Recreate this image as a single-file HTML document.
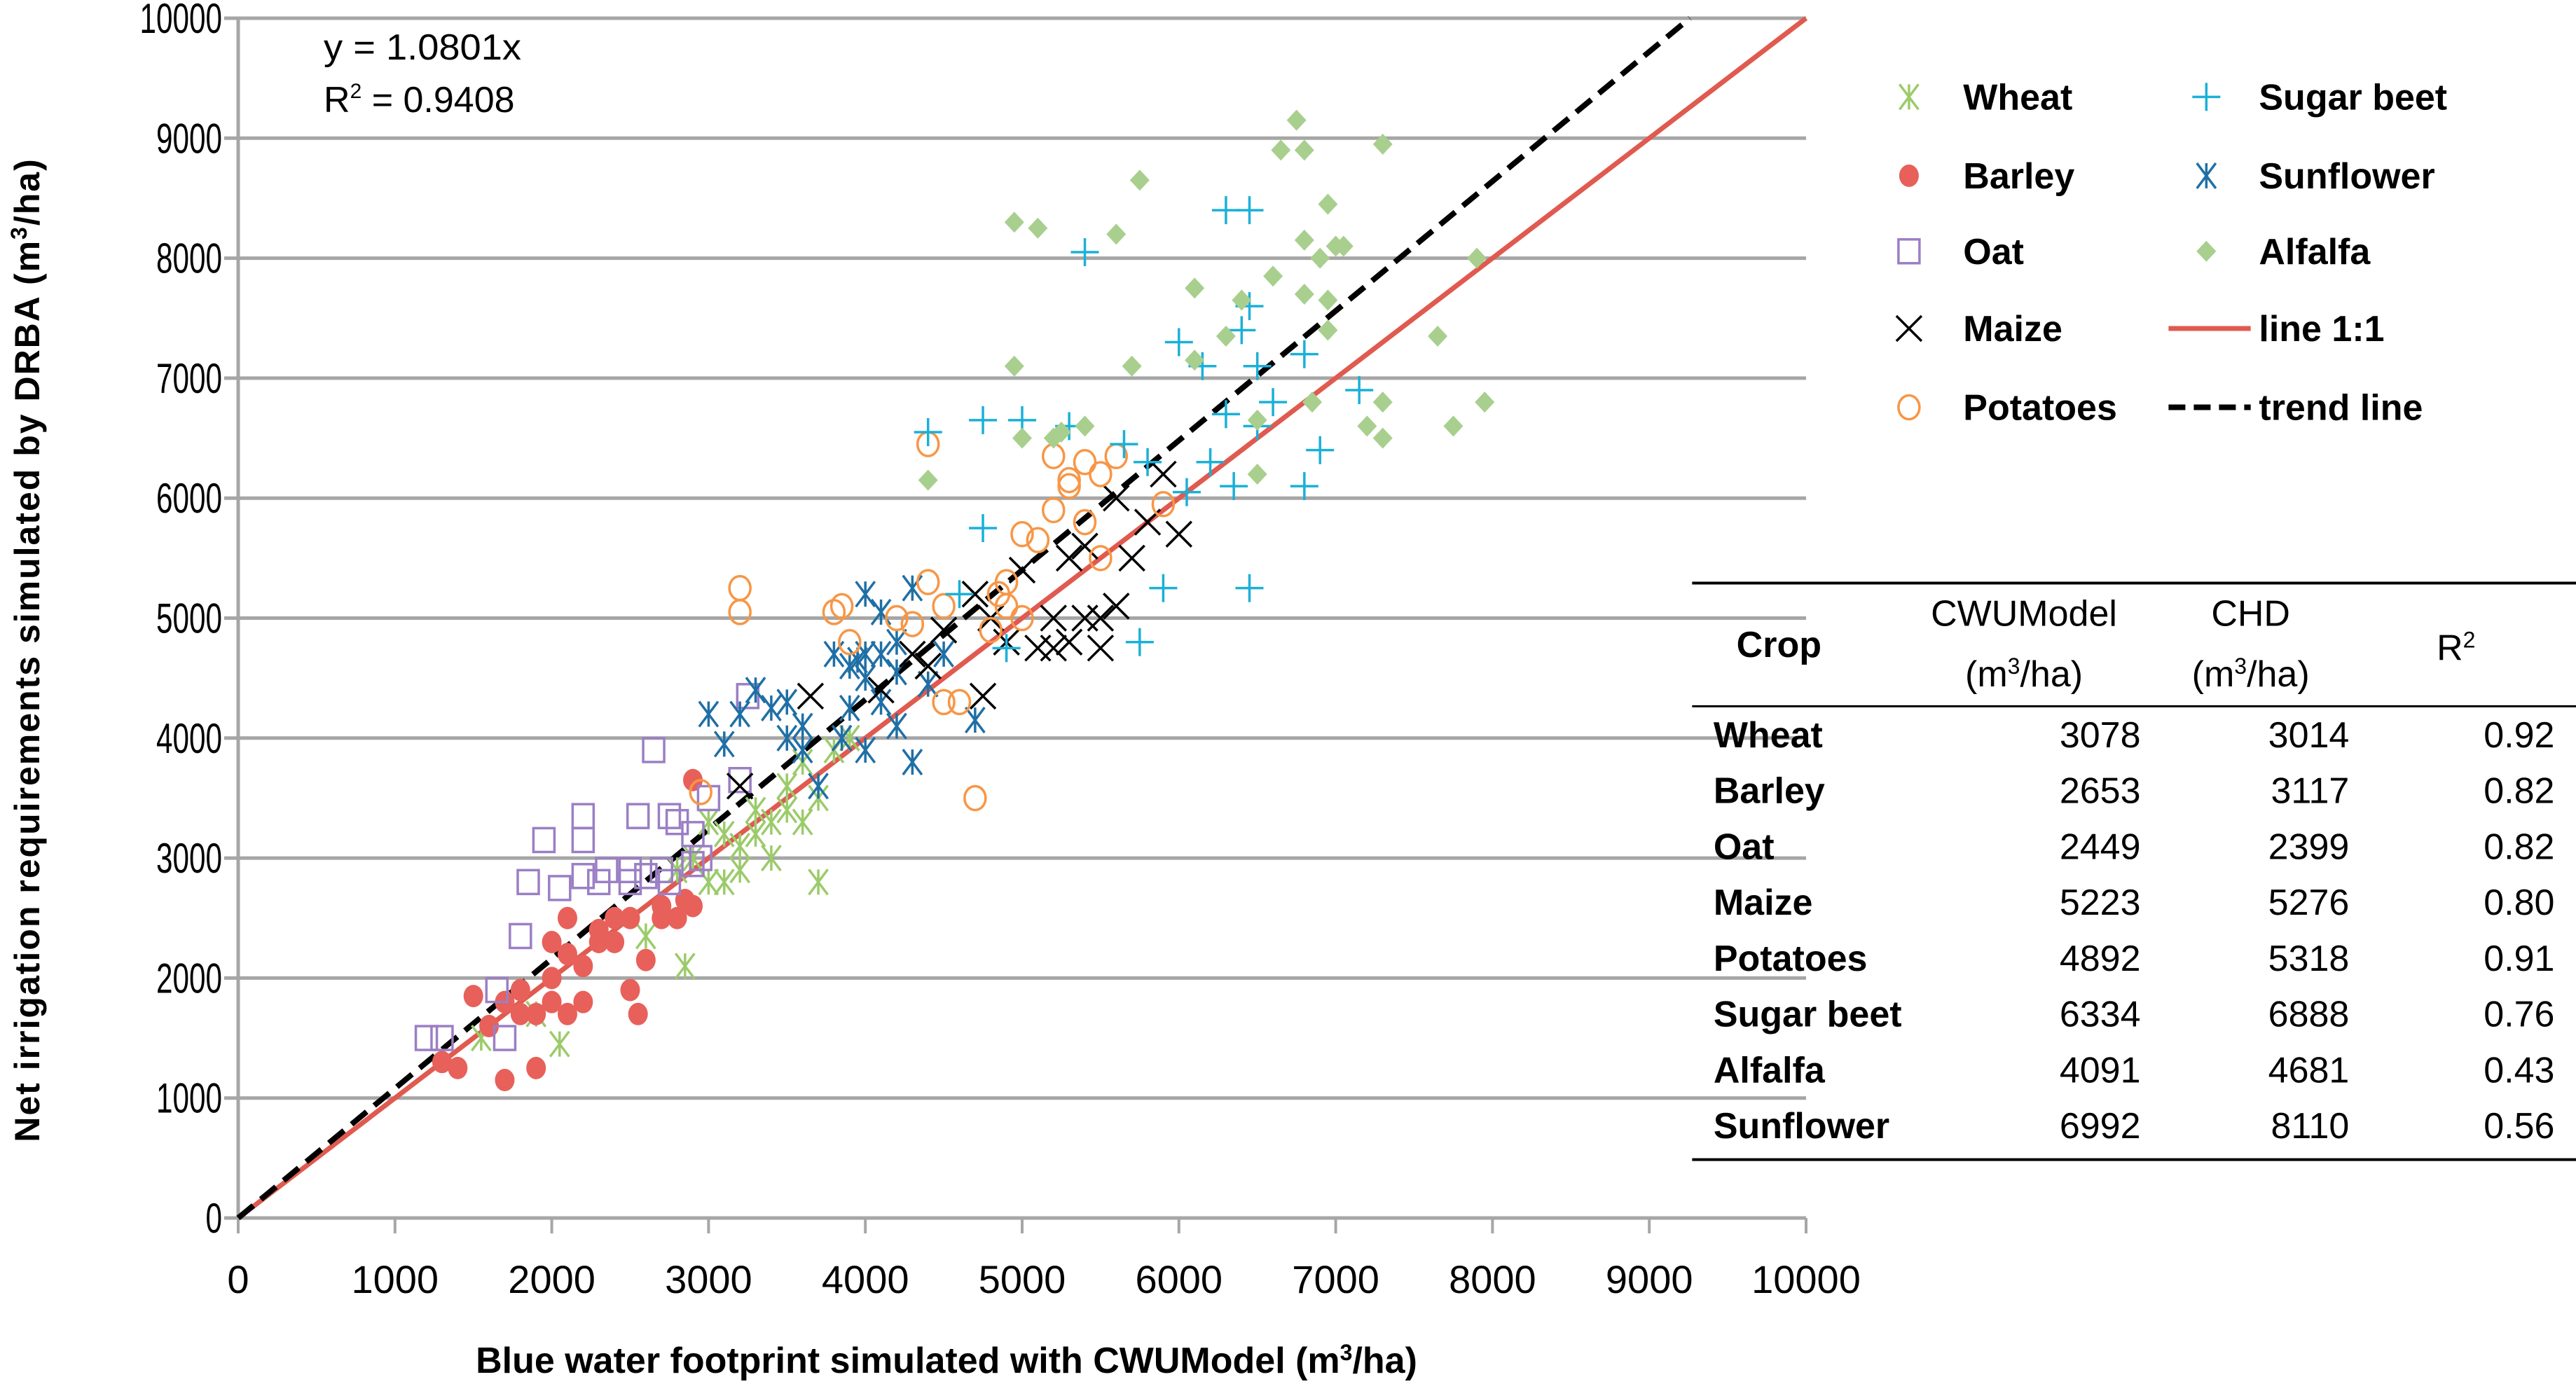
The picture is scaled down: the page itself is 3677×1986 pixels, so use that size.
<!DOCTYPE html>
<html><head><meta charset="utf-8"><style>
html,body{margin:0;padding:0;background:#fff}
svg{display:block;font-family:"Liberation Sans",Arial,sans-serif}
</style></head><body>
<svg id="chart" width="3677" height="1986" viewBox="0 0 3677 1986" xmlns="http://www.w3.org/2000/svg">
<g id="grid"></g>
<g id="axes"></g>
<g id="lines"></g>
<g id="marks"></g>
<text x="462" y="85" font-size="52" textLength="282" lengthAdjust="spacingAndGlyphs">y = 1.0801x</text>
<text x="462" y="160" font-size="52">R<tspan font-size="30" dy="-20">2</tspan><tspan dy="20"> = 0.9408</tspan></text>
<text transform="translate(56,928) rotate(-90)" text-anchor="middle" font-size="50" font-weight="bold" letter-spacing="2">Net irrigation requirements simulated by DRBA (m<tspan font-size="32" dy="-18">3</tspan><tspan dy="18">/ha)</tspan></text>
<text x="1351" y="1960" text-anchor="middle" font-size="52" font-weight="bold">Blue water footprint simulated with CWUModel (m<tspan font-size="32" dy="-18">3</tspan><tspan dy="18">/ha)</tspan></text>
<g id="legend"></g>
<g id="table"></g>
</svg>
<script>
const xTicks=[0,1000,2000,3000,4000,5000,6000,7000,8000,9000,10000];
const yTicks=[0,1000,2000,3000,4000,5000,6000,7000,8000,9000,10000];
const wheatX=[2050,1550,2600,2850,3700,3000,3100,3200,3300,3400,3500,3600,3700,3300,3500,3800,3900,3100,2900,3600,2800,3000,3400,3200,1900];
const wheatY=[1450,1500,2350,2100,2800,2800,2800,3100,3200,3000,3400,3300,3500,3400,3600,3900,4000,3200,3000,3800,2900,3300,3300,2900,1700];
const barleyX=[1700,1900,1400,1300,1500,1700,1800,1900,2000,2100,2200,2100,2200,2300,2400,2500,2550,2600,2100,2300,2400,2500,2700,2800,2900,2850,2900,2000,1800,2000,1600,2700];
const barleyY=[1150,1250,1250,1300,1850,1800,1700,1700,1800,1700,1800,2200,2100,2300,2300,1900,1700,2150,2500,2400,2500,2500,2500,2500,2600,2650,3650,2000,1900,2300,1600,2600];
const oatX=[1200,1300,1700,1650,1800,1850,1950,2200,2200,2050,2200,2350,2500,2550,2600,2700,2750,2800,2900,2950,2650,3200,3250,3000,2500,2300,2750,2900];
const oatY=[1500,1500,1500,1900,2350,2800,3150,3150,3350,2750,2850,2900,2900,3350,2850,2900,3350,3300,3200,3000,3900,3650,4350,3500,2800,2800,2800,2950];
const maizeX=[3650,4100,4300,4500,4700,4800,5000,5100,5200,5300,5400,5500,5500,5600,5700,5800,5900,6000,5600,5300,4750,4900,5200,5400,3200,4400];
const maizeY=[4350,4400,4700,4900,5200,5000,5400,4750,4750,4800,5000,5000,4750,5100,5500,5800,6200,5700,6000,5500,4350,4800,5000,5600,3600,4600];
const potatoX=[3200,3200,3800,3850,4400,4700,4500,4600,4200,4300,4400,4500,4800,4900,5000,5100,5200,5300,5400,5500,5200,5600,5300,5400,5500,5900,4900,5000,4850,3900,2950];
const potatoY=[5250,5050,5050,5100,6450,3500,4300,4300,5000,4950,5300,5100,4900,5300,5700,5650,5900,6100,6300,6200,6350,6350,6150,5800,5500,5950,5100,5000,5200,4800,3550];
const beetX=[4400,4750,5000,5300,5400,6300,6450,5650,6000,6150,6050,6400,6450,6500,6600,6800,7150,6900,6800,6450,5900,5750,4900,4750,4600,6200,6350,6500,6300,5800];
const beetY=[6550,6650,6650,6600,8050,8400,8400,6450,7300,7100,6050,7400,7600,7100,6800,7200,6900,6400,6100,5250,5250,4800,4750,5750,5200,6300,6100,6600,6700,6300];
const sunX=[3000,3100,3200,3400,3500,3600,3800,3850,3900,4000,4000,4100,4200,4300,4300,4000,4700,4500,3700,3900,4000,4100,3950,4200,4400,3500,3300,4100,4200,3600];
const sunY=[4200,3950,4200,4250,4000,3900,4700,4000,4250,4500,5200,5050,4800,5250,3800,3900,4150,4700,3600,4600,4700,4300,4650,4550,4450,4300,4400,4700,4100,4100];
const alfX=[4950,5100,4950,5000,5200,5250,5400,4400,5700,5600,5750,6100,6100,6300,6400,6500,6600,6800,6800,6900,6950,7000,7050,7200,7300,7300,6650,6800,6750,7300,7650,7750,7900,7950,6500,6850,6950,6950];
const alfY=[8300,8250,7100,6500,6500,6550,6600,6150,7100,8200,8650,7150,7750,7350,7650,6200,7850,7700,8150,8000,8450,8100,8100,6600,6500,6800,8900,8900,9150,8950,7350,6600,8000,6800,6650,6800,7400,7650];
const trendSlope=1.0801;
const tableCrops=["Wheat","Barley","Oat","Maize","Potatoes","Sugar beet","Alfalfa","Sunflower"];
const tableCWU=[3078,2653,2449,5223,4892,6334,4091,6992];
const tableCHD=[3014,3117,2399,5276,5318,6888,4681,8110];
const tableR2=["0.92","0.82","0.82","0.80","0.91","0.76","0.43","0.56"];

const NS="http://www.w3.org/2000/svg";
const X0=340,X1=2578,Y0=1739,Y1=26;
function sx(v){return X0+(X1-X0)*v/10000;}
function sy(v){return Y0-(Y0-Y1)*v/10000;}
function mk(tag,attrs,parent){const e=document.createElementNS(NS,tag);for(const k in attrs)e.setAttribute(k,attrs[k]);parent.appendChild(e);return e;}
const grid=document.getElementById('grid'),axes=document.getElementById('axes'),lines=document.getElementById('lines'),marks=document.getElementById('marks');

yTicks.forEach(t=>{
  const l=mk('line',{x1:X0-20,x2:X1,y1:sy(t),y2:sy(t),stroke:'#a6a6a6','stroke-width':5},grid);
  
  
  const s=String(t);
  const tx=mk('text',{x:317,y:sy(t)+21,'text-anchor':'end','font-size':60,textLength:s.length*23.5,lengthAdjust:'spacingAndGlyphs'},axes);
  tx.textContent=s;
  
  
});
const ya=mk('line',{x1:X0,x2:X0,y1:Y1,y2:Y0,stroke:'#a6a6a6','stroke-width':5},axes);


xTicks.forEach(t=>{
  const l=mk('line',{x1:sx(t),x2:sx(t),y1:Y0,y2:Y0+22,stroke:'#a6a6a6','stroke-width':4},axes);
  
  
  const tx=mk('text',{x:sx(t),y:1846,'text-anchor':'middle','font-size':56},axes);
  tx.textContent=t;
  
  
});

function marker(type,cx,cy,parent){
  const g=mk('g',{},parent);const r=18;
  if(type==='wheat'||type==='sun'){
    const c=type==='wheat'?'#9bcb6a':'#1f6fa5';
    mk('line',{x1:cx-r*0.75,y1:cy-r,x2:cx+r*0.75,y2:cy+r,stroke:c,'stroke-width':3.5},g);
    mk('line',{x1:cx+r*0.75,y1:cy-r,x2:cx-r*0.75,y2:cy+r,stroke:c,'stroke-width':3.5},g);
    mk('line',{x1:cx,y1:cy-r,x2:cx,y2:cy+r,stroke:c,'stroke-width':3.5},g);
  }else if(type==='barley'){mk('ellipse',{cx:cx,cy:cy,rx:14,ry:16,fill:'#e8605a'},g);}
  else if(type==='oat'){mk('rect',{x:cx-15,y:cy-17,width:30,height:34,fill:'none',stroke:'#9b7fc4','stroke-width':3.5},g);}
  else if(type==='maize'){mk('line',{x1:cx-r,y1:cy-r,x2:cx+r,y2:cy+r,stroke:'#000','stroke-width':3.5},g);mk('line',{x1:cx+r,y1:cy-r,x2:cx-r,y2:cy+r,stroke:'#000','stroke-width':3.5},g);}
  else if(type==='potato'){mk('ellipse',{cx:cx,cy:cy,rx:15,ry:17,fill:'none',stroke:'#f79646','stroke-width':3.5},g);}
  else if(type==='beet'){mk('line',{x1:cx-r-2,y1:cy,x2:cx+r+2,y2:cy,stroke:'#1ab0d8','stroke-width':3.5},g);mk('line',{x1:cx,y1:cy-r-2,x2:cx,y2:cy+r+2,stroke:'#1ab0d8','stroke-width':3.5},g);}
  else if(type==='alf'){mk('polygon',{points:`${cx},${cy-15} ${cx+14},${cy} ${cx},${cy+15} ${cx-14},${cy}`,fill:'#a8cf8e'},g);}
  return g;
}
const series=[['wheat',wheatX,wheatY],['barley',barleyX,barleyY],['oat',oatX,oatY],['sun',sunX,sunY],['maize',maizeX,maizeY],['potato',potatoX,potatoY],['beet',beetX,beetY],['alf',alfX,alfY]];
series.forEach(([t,xs,ys])=>{
  xs.forEach((v,i)=>{
    const g=marker(t,sx(v),sy(ys[i]),marks);
    
    
  });
});
const l11=mk('line',{x1:sx(0),y1:sy(0),x2:sx(10000),y2:sy(10000),stroke:'#e05a4f','stroke-width':7},lines);


const xe=10000/trendSlope;
const tl=mk('line',{x1:sx(0),y1:sy(0),x2:sx(xe),y2:sy(xe*trendSlope),stroke:'#000','stroke-width':8,'stroke-dasharray':'28 14'},lines);



const leg=document.getElementById('legend');
const legItems=[['wheat','Wheat',1162,1195,59],['barley','Barley',1162,1195,107],['oat','Oat',1162,1195,153],['maize','Maize',1162,1195,200],['potato','Potatoes',1162,1195,248],['beet','Sugar beet',1343,1375,59],['sun','Sunflower',1343,1375,107],['alf','Alfalfa',1343,1375,153],['line','line 1:1',1343,1375,200],['trend','trend line',1343,1375,248]];
const S=2.345;
legItems.forEach(([t,lab,mx,tx,y])=>{
  const g=mk('g',{},leg);
  
  
  if(t==='line')mk('line',{x1:1320*S,x2:1370*S,y1:y*S,y2:y*S,stroke:'#e05a4f','stroke-width':7},g);
  else if(t==='trend')mk('line',{x1:1320*S,x2:1370*S,y1:y*S,y2:y*S,stroke:'#000','stroke-width':8,'stroke-dasharray':'24 12'},g);
  else marker(t,mx*S,y*S,g);
  const te=mk('text',{x:tx*S,y:y*S+18,'font-size':52,'font-weight':'bold'},g);te.textContent=lab;
});

const tb=document.getElementById('table');
mk('line',{x1:1030*S,x2:3677,y1:355*S,y2:355*S,stroke:'#000','stroke-width':4},tb);
mk('line',{x1:1030*S,x2:3677,y1:430*S,y2:430*S,stroke:'#000','stroke-width':3},tb);
mk('line',{x1:1030*S,x2:3677,y1:706*S,y2:706*S,stroke:'#000','stroke-width':4},tb);
function txt(s,x,y,anchor,bold){const e=mk('text',{x:x*S,y:y*S,'text-anchor':anchor,'font-size':52,'font-weight':bold?'bold':'normal'},tb);e.textContent=s;return e;}
txt('Crop',1057,400,'start',true);
txt('CWUModel',1232,381,'middle',false);
const h1=txt('(m',1232,418,'middle',false);h1.innerHTML='(m<tspan font-size="32" dy="-18">3</tspan><tspan dy="18">/ha)</tspan>';
txt('CHD',1370,381,'middle',false);
const h2=txt('(m',1370,418,'middle',false);h2.innerHTML='(m<tspan font-size="32" dy="-18">3</tspan><tspan dy="18">/ha)</tspan>';
const h3=txt('R',1495,402,'middle',false);h3.innerHTML='R<tspan font-size="32" dy="-18">2</tspan>';
tableCrops.forEach((c,i)=>{
  const y=455+i*34;
  const a=txt(c,1043,y,'start',true);
  
  
  txt(String(tableCWU[i]),1303,y,'end',false);
  txt(String(tableCHD[i]),1430,y,'end',false);
  txt(tableR2[i],1555,y,'end',false);
});
</script>
</body></html>
